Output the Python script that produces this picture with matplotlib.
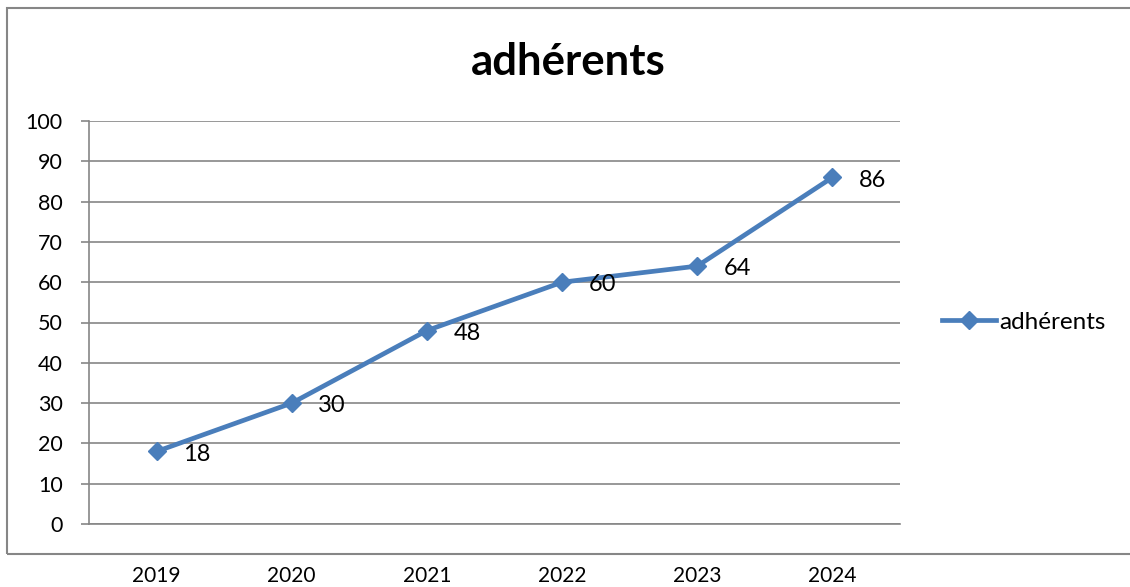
import matplotlib
matplotlib.use("Agg")
import matplotlib.pyplot as plt
from matplotlib.patches import Rectangle

years = ["2019", "2020", "2021", "2022", "2023", "2024"]
adherents = [18, 30, 48, 60, 64, 86]
y_ticks = [0, 10, 20, 30, 40, 50, 60, 70, 80, 90, 100]
title = "adhérents"
series_name = "adhérents"

plt.rcParams['font.family'] = ['Lato', 'DejaVu Sans']

W, H = 1130, 587
fig = plt.figure(figsize=(W / 100, H / 100), dpi=100)
fig.patch.set_facecolor("white")

# outer chart border (right edge outside image)
fig.patches.append(Rectangle((7 / W, (H - 554) / H), 1.2, (554 - 8) / H,
                             transform=fig.transFigure, fill=False,
                             edgecolor="#868686", linewidth=1.5, zorder=0))

ax = fig.add_axes([89 / W, (H - 524) / H, (900 - 89) / W, (524 - 121) / H])
x = list(range(len(years)))
color = "#4A7EBB"
ax.plot(x, adherents, color=color, linewidth=3.4, marker="D", markersize=9,
        label=series_name, zorder=3, clip_on=False)

for xi, v in zip(x, adherents):
    ax.annotate(str(v), (xi, v), xytext=(19, -2), textcoords="offset points",
                ha="left", va="center", fontsize=17, color="black", zorder=4)

ax.set_xlim(-0.5, len(years) - 0.5)
ax.set_ylim(0, 100)
ax.set_yticks(y_ticks)
ax.set_xticks(x)
ax.set_xticklabels(years)
ax.yaxis.grid(True, color="#868686", linewidth=1.2)
ax.set_axisbelow(True)
for s in ["top", "right"]:
    ax.spines[s].set_visible(False)
for s in ["left", "bottom"]:
    ax.spines[s].set_color("#868686")
    ax.spines[s].set_linewidth(1.2)
ax.tick_params(axis="y", length=6, color="#868686", width=1.2, labelsize=15.5, pad=13)
ax.tick_params(axis="x", length=0, labelsize=15, pad=30)

fig.text(568 / W, 1 - 62 / H, title, ha="center", va="center",
         fontsize=31.5, fontweight="bold")

leg = ax.legend(loc="center left", bbox_to_anchor=(930 / W, 1 - 322 / H),
                bbox_transform=fig.transFigure, frameon=False, fontsize=17.5,
                handlelength=2.2, handletextpad=0.15, borderpad=0)

fig.savefig("out.png", dpi=100)
